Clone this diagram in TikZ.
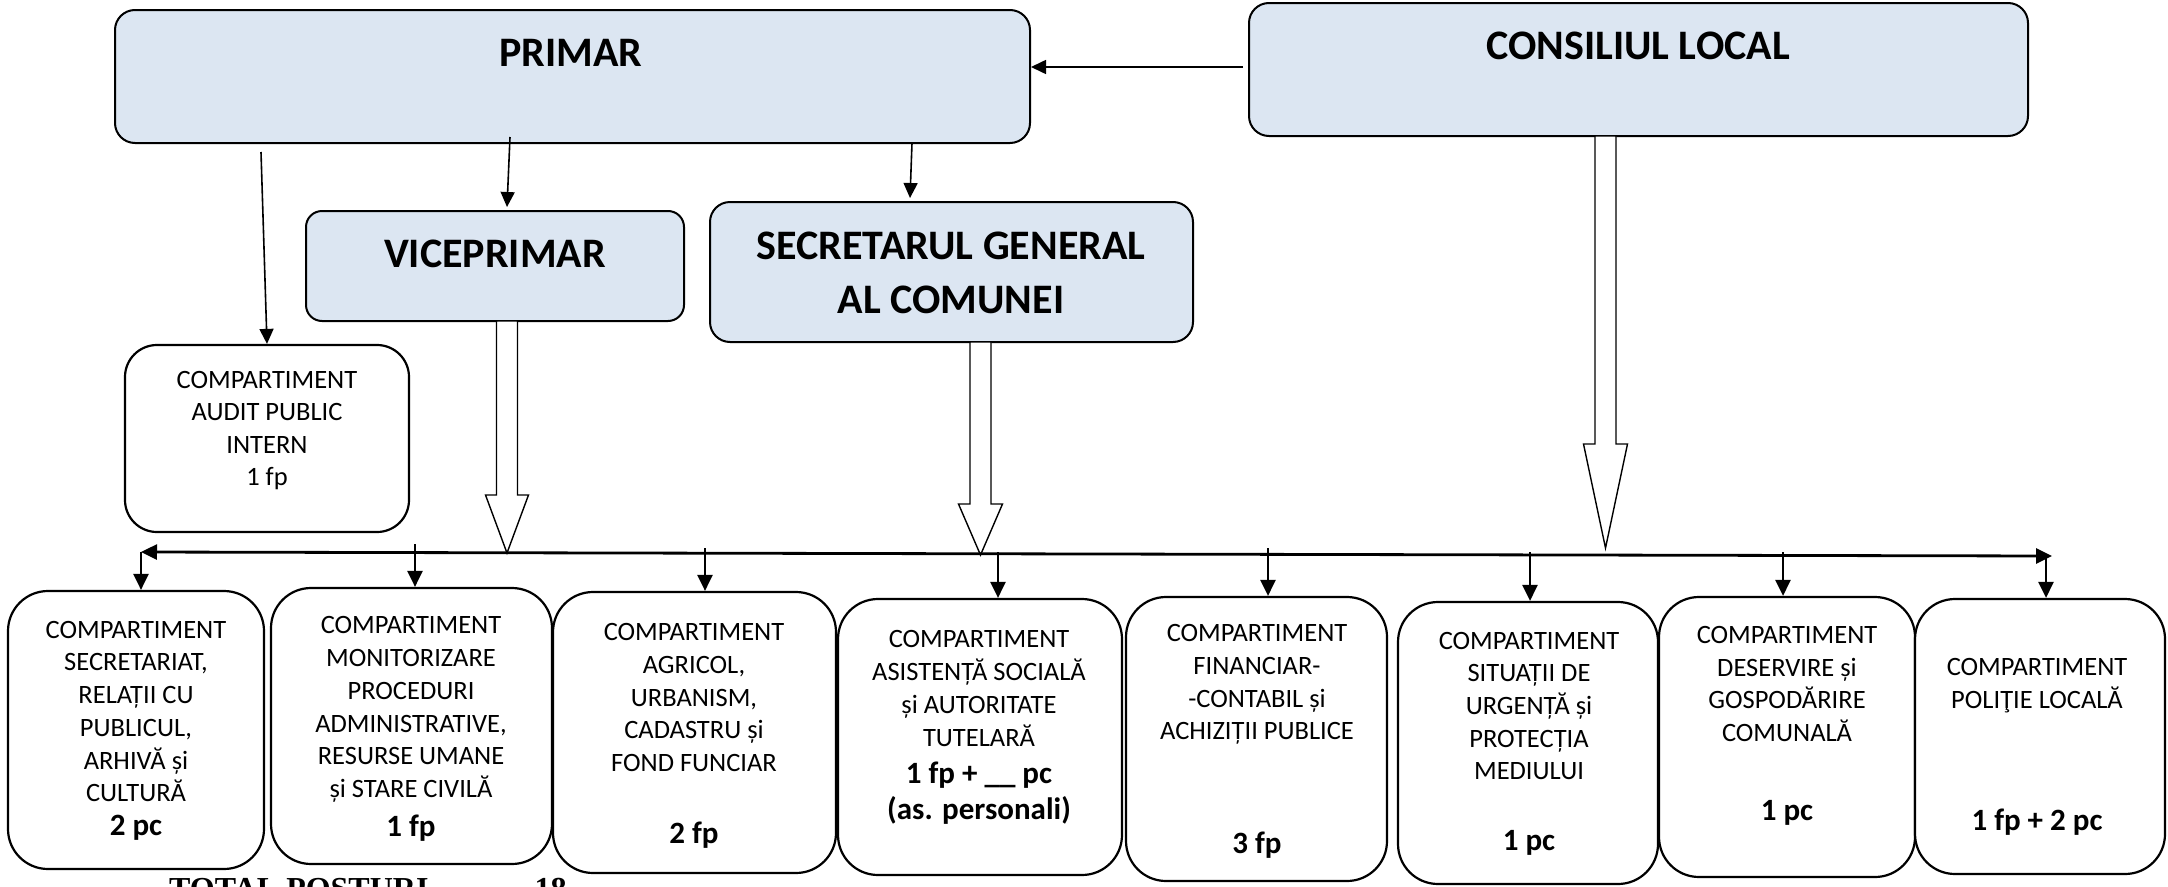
\documentclass[tikz,border=0pt]{standalone}
\usepackage{fontspec}
\setmainfont{Carlito}
\newfontfamily\timesb{Liberation Serif}
\usetikzlibrary{arrows.meta}
\definecolor{boxblue}{RGB}{220,230,242}
\newcommand{\blockarr}[4]{% #1 top coord, #2 shaft length, #3 head length, #4 head half width
  \draw[blk] (#1) ++(-10.5,0) -- ++(0,#2) -- ++(10.5-#4,0) -- ++(#4,#3) -- ++(#4,-#3) -- ++(10.5-#4,0) -- ++(0,-#2) -- cycle;}
\begin{document}
\begin{tikzpicture}[x=1pt,y=-1pt,
  topbox/.style={draw, line width=2pt, fill=boxblue, rounded corners=20pt, inner sep=0pt},
  botbox/.style={draw, line width=2.2pt, fill=white, rounded corners=40pt, inner sep=0pt},
  title/.style={font=\fontsize{42}{54}\selectfont\bfseries, align=center, inner sep=0pt},
  bt/.style={font=\fontsize{26.5}{32.7}\selectfont, align=center, inner sep=0pt},
  bn/.style={font=\fontsize{31}{36}\selectfont\bfseries, align=center, inner sep=0pt},
  tip/.style={-{Triangle[length=16pt,width=15pt]}},
  arr/.style={tip, line width=2.4pt},
  arrthin/.style={-{Triangle[length=15pt,width=14pt]}, line width=1.6pt},
  bus/.style={line width=2.8pt},
  blk/.style={draw, line width=1.4pt, fill=white, line join=miter}]
\clip (0,0) rectangle (2168,886);
\useasboundingbox (0,0) rectangle (2168,886);

% top boxes
\node[topbox, minimum width=915pt, minimum height=133pt] (primar) at (572.5,76.5) {};
\node[title] (primarT) at (571,53) {PRIMAR};
\node[topbox, minimum width=779pt, minimum height=133pt] (cons) at (1638.5,69.5) {};
\node[title] (consT) at (1638,46) {CONSILIUL LOCAL};
\node[topbox, rounded corners=16pt, minimum width=378pt, minimum height=110pt] (vice) at (495,266) {};
\node[title] (viceT) at (495,254) {VICEPRIMAR};
\node[topbox, minimum width=483pt, minimum height=140pt] (secr) at (951.5,272) {};
\node[title] (secrT) at (951,273) {SECRETARUL GENERAL\\AL COMUNEI};
\node[botbox, rounded corners=32pt, minimum width=284pt, minimum height=187pt] (audit) at (267,438.5) {};
\node[bt, font=\fontsize{26.5}{32.3}\selectfont] (auditT) at (267,430.5) {COMPARTIMENT\\AUDIT PUBLIC\\INTERN\\1 fp};

% arrows from consiliul / primar
\coordinate (c1) at (1243,67);
\draw[arrthin] (c1) -- (c1 -| primar.east);
\coordinate (p1) at (261,152);
\draw[arrthin] (p1) -- (audit.north);
\coordinate (p2) at (510,137); \coordinate (p2e) at (507,207);
\draw[arrthin] (p2) -- (p2e);
\coordinate (p3) at (912,143); \coordinate (p3e) at (910,198);
\draw[arrthin] (p3) -- (p3e);

% block arrows
\coordinate (vA) at (507,321);
\blockarr{vA}{174}{58}{21.5}
\coordinate (sA) at (980.5,342);
\blockarr{sA}{162}{51}{22}
\coordinate (cA) at (1605.5,136);
\blockarr{cA}{308}{104}{22}

% bottom boxes
\node[botbox, minimum width=256pt, minimum height=278pt] (b1) at (136,730) {};
\node[botbox, minimum width=281pt, minimum height=276pt] (b2) at (411.5,726) {};
\node[botbox, minimum width=283pt, minimum height=281pt] (b3) at (694.5,732.5) {};
\node[botbox, minimum width=284pt, minimum height=276pt] (b4) at (980,737) {};
\node[botbox, minimum width=261pt, minimum height=284pt] (b5) at (1256.5,739) {};
\node[botbox, minimum width=260pt, minimum height=282pt] (b6) at (1528,743) {};
\node[botbox, minimum width=256pt, minimum height=280pt] (b7) at (1787,737) {};
\node[botbox, minimum width=250pt, minimum height=275pt] (b8) at (2040,736.5) {};

\node[bt] (t1) at (136,711.5) {COMPARTIMENT\\SECRETARIAT,\\RELAȚII CU\\PUBLICUL,\\ARHIVĂ și\\CULTURĂ};
\node[bn] (n1) at (136,828) {2 pc};
\node[bt] (t2) at (411,709.5) {COMPARTIMENT\\MONITORIZARE\\PROCEDURI\\ADMINISTRATIVE,\\RESURSE UMANE\\și STARE CIVILĂ};
\node[bn] (n2) at (411,828) {1 fp};
\node[bt] (t3) at (694,697.5) {COMPARTIMENT\\AGRICOL,\\URBANISM,\\CADASTRU și\\FOND FUNCIAR};
\node[bn] (n3) at (694,835) {2 fp};
\node[bt] (t4) at (979,688.5) {COMPARTIMENT\\ASISTENȚĂ SOCIALĂ\\și AUTORITATE\\TUTELARĂ};
\node[bn] (n4) at (979,793) {1 fp + \_\_ pc\\(as. personali)};
\node[bt] (t5) at (1257,684.5) {COMPARTIMENT\\FINANCIAR-\\-CONTABIL și\\ACHIZIȚII PUBLICE};
\node[bn] (n5) at (1257,845) {3 fp};
\node[bt] (t6) at (1529,706) {COMPARTIMENT\\SITUAȚII DE\\URGENȚĂ și\\PROTECȚIA\\MEDIULUI};
\node[bn] (n6) at (1529,843) {1 pc};
\node[bt] (t7) at (1787,684) {COMPARTIMENT\\DESERVIRE și\\GOSPODĂRIRE\\COMUNALĂ};
\node[bn] (n7) at (1787,813) {1 pc};
\node[bt] (t8) at (2037,685.5) {COMPARTIMENT\\POLIŢIE LOCALĂ};
\node[bn] (n8) at (2037,822) {1 fp + 2 pc};

% bus
\coordinate (busL) at (141,552);
\coordinate (busR) at (2052,556);
\draw[bus, {Triangle[length=16pt,width=15pt]}-{Triangle[length=16pt,width=15pt]}] (busL) -- (busR);
\coordinate (d1) at (141,552);
\coordinate (d2) at (415,544);
\coordinate (d3) at (705,548);
\coordinate (d4) at (998,552);
\coordinate (d5) at (1268,548);
\coordinate (d6) at (1530,552);
\coordinate (d7) at (1783,552);
\coordinate (d8) at (2046,556);
\foreach \i in {1,...,8}{\draw[arr] (d\i) -- (d\i |- b\i.north);}

% total
\node[font=\timesb\bfseries\fontsize{32}{36}\selectfont, anchor=base west, inner sep=0pt] (total) at (169,899) {TOTAL POSTURI\hspace{106pt}18};
\end{tikzpicture}
\end{document}
